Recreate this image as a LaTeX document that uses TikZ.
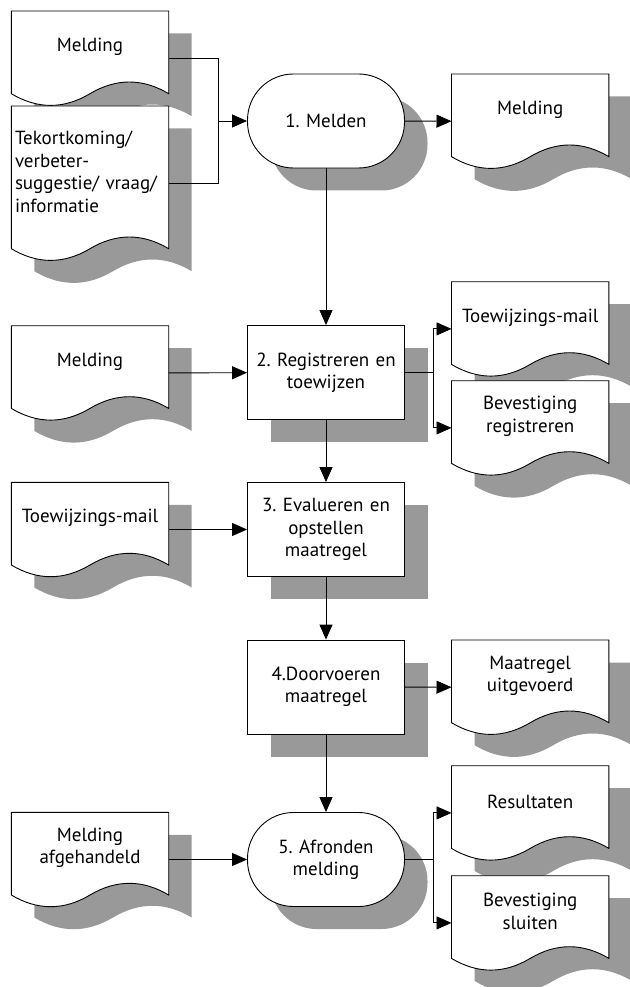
\documentclass[tikz,border=0pt]{standalone}
\usepackage{fontspec}
\setmainfont{PT Sans}
\frenchspacing
\usepackage{tikz}
\usetikzlibrary{calc, arrows.meta}

\definecolor{schaduw}{RGB}{153,153,153}

\pgfdeclarelayer{vorm}
\pgfsetlayers{vorm,main}

% rand van een documentvorm rond knoop #1 (golvende onderkant)
\newcommand{\docrand}[1]{(#1.north west) -- (#1.north east)
  -- ($(#1.south east)+(0,11.3)$)
  .. controls ($(#1.south east)+(-26.2,-4.3)$) and ($(#1.south)+(26.2,-4.3)$) .. ($(#1.south)+(0,11.3)$)
  .. controls ($(#1.south)+(-26.2,26.9)$) and ($(#1.south west)+(26.2,26.9)$) .. ($(#1.south west)+(0,11.3)$)
  -- cycle}

% document: [opties]{naam}{bovenkant midden}{hoogte}{tekst}
\newcommand{\docvorm}[5][]{%
  \node[doc, minimum height=#4, #1] (#2) at (#3) {#5};
  \coordinate (#2-l) at ($(#2.west)+(0,11.5)$);
  \coordinate (#2-r) at ($(#2.east)+(0,11.5)$);
  \begin{pgfonlayer}{vorm}
    \filldraw[lijn, fill=white, schaduwval] \docrand{#2};
  \end{pgfonlayer}}

\begin{document}
\begin{tikzpicture}[x=1pt, y=-1pt,
    font=\fontsize{19pt}{22.5pt}\selectfont,
    lijn/.style={line width=0.9pt},
    pijl/.style={-{Triangle[length=15pt, width=13pt]}},
    schaduwval/.style={preaction={fill=schaduw, draw=none,
        transform canvas={shift={(23,22.5)}}}},
    doc/.style={anchor=north, minimum width=157pt, text width=150pt,
        inner sep=0pt, align=center},
    stap/.style={draw, lijn, fill=white, schaduwval, minimum width=157pt,
        minimum height=94pt, text width=150pt, inner sep=0pt, align=center},
    eind/.style={stap, rounded corners=46pt}]
  \useasboundingbox (0,0) rectangle (629,987);

  % 1. melden
  \docvorm{melding}{90,11}{71pt}{Melding}
  \docvorm[align=left]{tekort}{90,106}{131pt}{Tekortkoming/\\ verbeter-\\ suggestie/ vraag/\\ informatie}
  \node[eind] (melden) at (326,121) {1. Melden};
  \docvorm{melding-uit}{530.2,74}{71pt}{Melding}

  % 2. registreren en toewijzen
  \node[stap] (registreren) at (326,372.5) {2. Registreren en\\ toewijzen};
  \docvorm{melding-in}{90,325.7}{71pt}{Melding}
  \docvorm{mail-uit}{530.2,281.7}{71pt}{Toewijzings-mail}
  \docvorm{bevestiging-reg}{530.2,380.7}{71pt}{Bevestiging\\ registreren}

  % 3. evalueren
  \node[stap] (evalueren) at (326,529.5) {3. Evalueren en\\ opstellen\\ maatregel};
  \docvorm{mail-in}{90,482.3}{71pt}{Toewijzings-mail}

  % 4. doorvoeren
  \node[stap] (doorvoeren) at (326,687) {4.Doorvoeren\\ maatregel};
  \docvorm{uitgevoerd}{530.2,640}{71pt}{Maatregel\\ uitgevoerd}

  % 5. afronden
  \node[eind] (afronden) at (326,859.5) {5. Afronden\\ melding};
  \docvorm{afgehandeld}{90,812.3}{71pt}{Melding\\ afgehandeld}
  \docvorm{resultaten}{530.2,765.7}{71pt}{Resultaten}
  \docvorm{bevestiging-sl}{530.2,875.7}{71pt}{Bevestiging\\ sluiten}

  % verbindingen
  \coordinate (samen) at (218.3,121);
  \coordinate (splits-a) at ($(registreren.east)+(28.4,0)$);
  \coordinate (splits-b) at ($(afronden.east)+(28.4,0)$);

  \draw[lijn] (melding-r) -| (samen) |- (tekort-r);
  \draw[lijn, pijl] (samen) -- (melden);
  \draw[lijn, pijl] (melden) -- (melding-uit-l);
  \draw[lijn, pijl] (melden) -- (registreren);

  \draw[lijn, pijl] (melding-in-r) -- (registreren);
  \draw[lijn] (registreren) -- (splits-a);
  \draw[lijn, pijl] (splits-a) |- (mail-uit-l);
  \draw[lijn, pijl] (splits-a) |- (bevestiging-reg-l);
  \draw[lijn, pijl] (registreren) -- (evalueren);

  \draw[lijn, pijl] (mail-in-r) -- (evalueren);
  \draw[lijn, pijl] (evalueren) -- (doorvoeren);
  \draw[lijn, pijl] (doorvoeren) -- (uitgevoerd-l);
  \draw[lijn, pijl] (doorvoeren) -- (afronden);

  \draw[lijn, pijl] (afgehandeld-r) -- (afronden);
  \draw[lijn] (afronden) -- (splits-b);
  \draw[lijn, pijl] (splits-b) |- (resultaten-l);
  \draw[lijn, pijl] (splits-b) |- (bevestiging-sl-l);
\end{tikzpicture}
\end{document}
